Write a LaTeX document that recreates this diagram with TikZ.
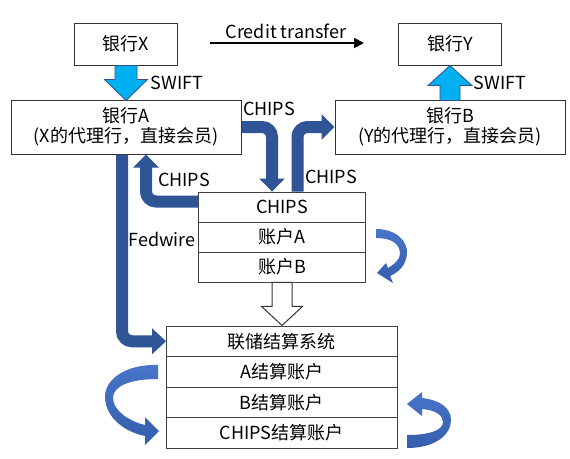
\documentclass[tikz,border=0pt]{standalone}
\usepackage{fontspec}
\setmainfont{Noto Sans CJK SC}
\usetikzlibrary{arrows.meta,calc}
\definecolor{dblue}{RGB}{47,85,151}
\definecolor{cbluetop}{RGB}{72,118,200}
\definecolor{cbluebot}{RGB}{52,94,172}
\definecolor{lblue}{RGB}{0,176,240}
\definecolor{lbline}{RGB}{47,82,143}
\begin{document}
\begin{tikzpicture}[x=1pt,y=-1pt,
  box/.style={draw=black!80, line width=1pt, inner sep=0pt, align=center,
    font=\fontsize{18}{20}\selectfont},
  row/.style={draw=black!75, line width=0.9pt, inner sep=0pt, minimum height=30pt,
    font=\fontsize{18}{20}\selectfont},
  lab/.style={inner sep=0pt, font=\fontsize{18}{20}\selectfont},
  bigarrow/.style={draw=dblue, line width=12pt, rounded corners=10pt,
    -{Triangle[width=25pt,length=13pt]}},
  swift/.style={fill=lblue, draw=lbline, line width=0.8pt, line join=miter},
  hollow/.style={fill=white, draw=black!80, line width=1pt},
  curved/.style={top color=cbluetop, bottom color=cbluebot, draw=none}]
\useasboundingbox (0,0) rectangle (570,458);
\fill[white] (0,0) rectangle (570,458);

% top boxes
\node[box, minimum width=103pt, minimum height=42pt] (X) at (126,44) {银行X};
\node[box, minimum width=103pt, minimum height=42pt] (Y) at (450,44) {银行Y};
\node[box, minimum width=230pt, minimum height=54pt] (A) at (126,127) {银行A\\(X的代理行，直接会员)};
\node[box, minimum width=230pt, minimum height=54pt] (B) at (450,127) {银行B\\(Y的代理行，直接会员)};

% CHIPS stack
\node[row, minimum width=166.5pt] (c1) at (282,207) {CHIPS};
\node[row, minimum width=166.5pt] (c2) at (282,237) {账户A};
\node[row, minimum width=166.5pt] (c3) at (282,267) {账户B};

% Fed stack
\node[row, minimum width=230.5pt, minimum height=30.5pt] (f1) at (281.75,341.25) {联储结算系统};
\node[row, minimum width=230.5pt, minimum height=30.5pt] (f2) at (281.75,371.75) {A结算账户};
\node[row, minimum width=230.5pt, minimum height=30.5pt] (f3) at (281.75,402.25) {B结算账户};
\node[row, minimum width=230.5pt, minimum height=30.5pt] (f4) at (281.75,432.75) {CHIPS结算账户};

% credit transfer
\coordinate (ct1) at (210,43);
\coordinate (ct2) at (364,43);
\draw[line width=1.8pt, -{Triangle[width=10pt,length=10pt]}] (ct1) -- (ct2);
\node[lab] (lct) at (286,31) {Credit transfer};

% SWIFT arrows
\draw[swift, shift={(X.south)}] (-11,0) -- (11,0) -- (11,14) -- (21.5,14) -- (0,35) -- (-21.5,14) -- (-11,14) -- cycle;
\draw[swift, shift={(Y.south)}] (-10,35) -- (-10,20) -- (-22,20) -- (0,0) -- (22,20) -- (10,20) -- (10,35) -- cycle;
\node[lab] (ls1) at (177,83) {SWIFT};
\node[lab] (ls2) at (500,83) {SWIFT};

% CHIPS arrows
\draw[bigarrow] (A.east) -| ($(c1.north)+(-10pt,0)$);
\draw[bigarrow] ($(c1.north)+(15.5pt,0)$) |- (B.west);
\draw[bigarrow] ($(c1.west)+(0,5.5pt)$) -| ($(A.south)+(20pt,0)$);
\node[lab] (lc1) at (269,109) {CHIPS};
\node[lab] (lc2) at (331,177) {CHIPS};
\node[lab] (lc3) at (184,180) {CHIPS};

% Fedwire
\draw[bigarrow, -{Triangle[width=25pt,length=14pt]}] ($(A.south)+(-4pt,0)$) |- (f1.west);
\node[lab] (lfw) at (162,239) {Fedwire};

% hollow arrow
\draw[hollow, shift={(c3.south)}] (-10,0) -- (10,0) -- (10,24) -- (20.5,24) -- (0,43) -- (-20.5,24) -- (-10,24) -- cycle;

% curved arrows
\path[curved] (376,229) .. controls (396,229) and (408,241) .. (407,254)
  .. controls (406,265) and (399,272) .. (390,276) -- (393,283) -- (377,273) -- (386,263) -- (388,268)
  .. controls (395,264) and (400,259) .. (400,254) .. controls (400,244) and (392,238) .. (376,238) -- cycle;
\path[curved] (158,365) .. controls (125,364) and (104,380) .. (105,398)
  .. controls (106,418) and (125,432) .. (145,436) -- (145,445) -- (159,431) -- (145,417) -- (145,425)
  .. controls (128,421) and (113,410) .. (113,398) .. controls (113,386) and (130,379) .. (158,379) -- cycle;
\path[curved] (407,448) .. controls (435,448) and (451,435) .. (451,420)
  .. controls (451,408) and (440,400) .. (422,398) -- (422,392) -- (407,404) -- (422,416) -- (422,409)
  .. controls (435,410) and (443,415) .. (443,422) .. controls (443,430) and (430,435) .. (407,435) -- cycle;
\end{tikzpicture}
\end{document}
